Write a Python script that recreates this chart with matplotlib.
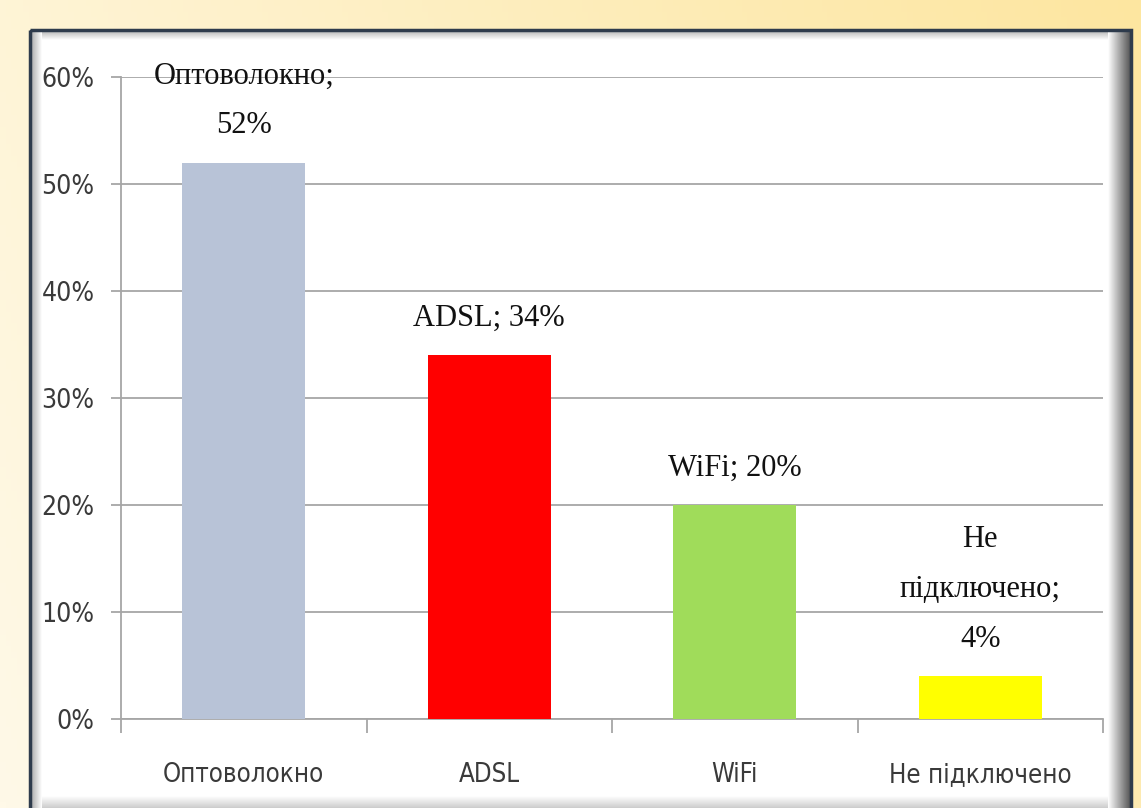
import numpy as np
import matplotlib.pyplot as plt
from matplotlib.patches import Rectangle

# данные
categories = ['Оптоволокно', 'ADSL', 'WiFi', 'Не підключено']
values = [0.52, 0.34, 0.20, 0.04]
data_labels = ['Оптоволокно;\n52%', 'ADSL; 34%', 'WiFi; 20%', 'Не\nпідключено;\n4%']
bar_colors = ['#B8C3D7', '#FF0000', '#A0DC5A', '#FFFF00']
y_ticks = [0, 0.1, 0.2, 0.3, 0.4, 0.5, 0.6]
y_tick_labels = ['0%', '10%', '20%', '30%', '40%', '50%', '60%']

W, H = 1141, 808
fig = plt.figure(figsize=(W / 100, H / 100), dpi=100)

# фон и рамка в пиксельных координатах
bg = fig.add_axes([0, 0, 1, 1])
bg.set_xlim(0, W)
bg.set_ylim(H, 0)
bg.axis('off')

gx, gy = np.meshgrid(np.linspace(0, 1, 200), np.linspace(0, 1, 140))
t = np.clip(0.75 * gx + 0.25 * (1 - gy), 0, 1)[..., None]
c0 = np.array([255, 249, 232]) / 255
c1 = np.array([253, 230, 160]) / 255
bg.imshow(c0 * (1 - t) + c1 * t, extent=[0, W, H, 0], aspect='auto', zorder=0)

bg.add_patch(Rectangle((30, 30), 1100, 800, facecolor='white', edgecolor='none', zorder=1))

# тени внутри рамки
def shade(x0, x1, y0, y1, horizontal, reverse, dark=0.45):
    g = np.linspace(1, dark, 64)
    if reverse:
        g = g[::-1]
    img = g[None, :] if horizontal else g[:, None]
    rgb = np.repeat(img[..., None], 3, axis=2)
    bg.imshow(rgb, extent=[x0, x1, y1, y0], aspect='auto', zorder=2)

shade(32, 1108, 32, 40, False, True, 0.75)
shade(42, 1108, 796, 808, False, False, 0.8)
shade(32, 42, 32, 808, True, True, 0.7)
shade(1108, 1130, 32, 808, True, False, 0.35)
bg.add_patch(Rectangle((30, 30), 1101, 800, facecolor='none', edgecolor='#2E3B4C', lw=2.5, zorder=3))

# график
ax = fig.add_axes([121 / W, (H - 719) / H, (1103 - 121) / W, (719 - 77) / H])
ax.set_facecolor('none')
x = np.arange(len(categories))
ax.bar(x, values, width=0.5, color=bar_colors, zorder=3)

ax.set_xlim(-0.5, len(categories) - 0.5)
ax.set_ylim(0, 0.6)
ax.set_yticks(y_ticks)
ax.set_yticklabels(y_tick_labels)
ax.set_xticks(x)
ax.set_xticklabels(categories)
ax.set_xticks(np.arange(-0.5, len(categories)), minor=True)

ax.grid(axis='y', color='#A6A6A6', lw=1.3, zorder=0)
for s in ['top', 'right']:
    ax.spines[s].set_visible(False)
for s in ['left', 'bottom']:
    ax.spines[s].set_color('#A6A6A6')
    ax.spines[s].set_linewidth(1.3)

ax.tick_params(axis='y', length=7, width=1.3, color='#A6A6A6', pad=12,
               labelsize=19, labelcolor='#3A3A3A')
ax.tick_params(axis='x', which='major', length=0, pad=31, labelsize=18.5, labelcolor='#3A3A3A')
ax.tick_params(axis='x', which='minor', length=10, width=1.3, color='#A6A6A6')
for lbl in ax.get_yticklabels() + ax.get_xticklabels():
    lbl.set_family('DejaVu Sans')
    lbl.set_stretch('condensed')

for xi, v, txt in zip(x, values, data_labels):
    ax.annotate(txt, (xi, v), xytext=(0, 16), textcoords='offset points',
                ha='center', va='bottom', fontsize=22, family='Liberation Serif',
                color='#111111', linespacing=1.95, zorder=4)

plt.savefig('out.png', dpi=100)
